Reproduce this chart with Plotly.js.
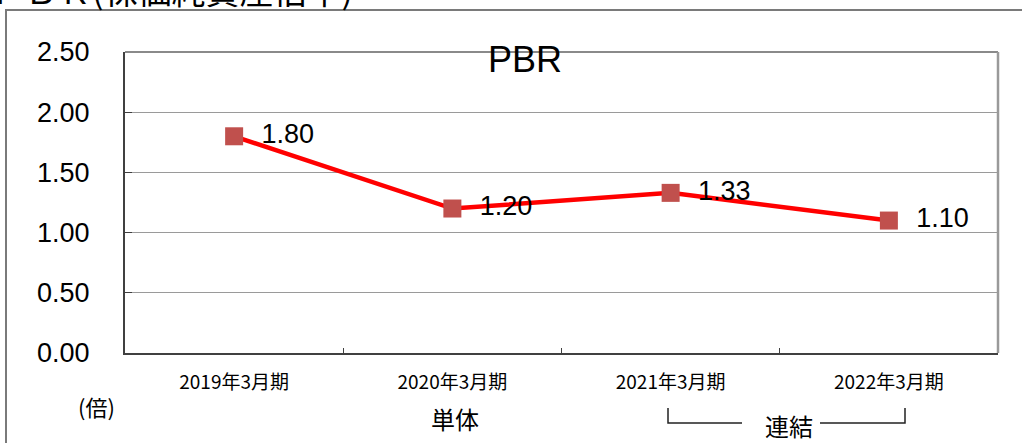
<!DOCTYPE html>
<html>
<head>
<meta charset="utf-8">
<script src="https://cdn.plot.ly/plotly-3.0.1.min.js"></script>
<style>html,body{margin:0;padding:0;background:#fff;}#chart{width:1022px;height:443px;}</style>
</head>
<body>
<div id="chart"></div>
<script>
const categories = ["2019年3月期", "2020年3月期", "2021年3月期", "2022年3月期"];
const pbrValues = [1.80, 1.20, 1.33, 1.10];
const pbrLabels = ["1.80", "1.20", "1.33", "1.10"];
const yTickValues = [0, 0.5, 1.0, 1.5, 2.0, 2.5];
const yTickLabels = ["0.00", "0.50", "1.00", "1.50", "2.00", "2.50"];

const W = 1022, H = 443;
const L = 125, R = 24, T = 52, B = 90;
const pw = W - L - R, ph = H - T - B;
const px = x => (x - L) / pw;
const py = y => (H - B - y) / ph;

const trace = {
  type: 'scatter',
  mode: 'lines+markers+text',
  x: categories,
  y: pbrValues,
  text: pbrLabels.map(s => '\u00a0\u00a0' + s),
  textposition: 'middle right',
  textfont: {family: 'Liberation Sans, Arial, sans-serif', size: 27, color: '#000'},
  line: {color: '#FF0000', width: 4.5},
  marker: {symbol: 'square', size: 18, color: '#C0504D', line: {width: 0}},
  cliponaxis: false,
  hoverinfo: 'skip'
};

const jp = 'Noto Sans CJK JP, sans-serif';
const layout = {
  width: W, height: H,
  margin: {l: L, r: R, t: T, b: B, pad: 0},
  paper_bgcolor: '#fff', plot_bgcolor: '#fff',
  showlegend: false,
  xaxis: {
    type: 'category',
    categoryarray: categories,
    range: [-0.5, 3.5],
    tickson: 'boundaries',
    ticks: 'inside', ticklen: 5, tickcolor: '#404040', tickwidth: 1,
    showline: true, linecolor: '#404040', linewidth: 2,
    showgrid: false, zeroline: false,
    tickfont: {family: jp, size: 19, color: '#000'},
    ticklabelstandoff: 11,
    fixedrange: true
  },
  yaxis: {
    range: [0, 2.5],
    tickvals: yTickValues, ticktext: yTickLabels,
    ticks: 'inside', ticklen: 7, tickcolor: '#404040', tickwidth: 1,
    showline: true, linecolor: '#404040', linewidth: 2,
    showgrid: true, gridcolor: '#9a9a9a', gridwidth: 1,
    zeroline: false,
    tickfont: {family: 'Liberation Sans, Arial, sans-serif', size: 27, color: '#000'},
    ticklabelstandoff: 28,
    fixedrange: true
  },
  shapes: [
    {type: 'line', xref: 'paper', yref: 'paper', x0: 0, x1: 1, y0: 1, y1: 1, line: {color: '#8a8a8a', width: 2}},
    {type: 'line', xref: 'paper', yref: 'paper', x0: 1, x1: 1, y0: 0, y1: 1, line: {color: '#9a9a9a', width: 2.5}},
    {type: 'path', xref: 'paper', yref: 'paper',
     path: `M ${px(6)},${py(460)} L ${px(6)},${py(10)} L ${px(1030)},${py(10)}`,
     line: {color: '#7a7a7a', width: 2}},
    {type: 'path', xref: 'paper', yref: 'paper',
     path: `M ${px(668)},${py(408)} L ${px(668)},${py(423)} L ${px(742)},${py(423)}`,
     line: {color: '#222', width: 1.5}},
    {type: 'path', xref: 'paper', yref: 'paper',
     path: `M ${px(820)},${py(423)} L ${px(905)},${py(423)} L ${px(905)},${py(408)}`,
     line: {color: '#222', width: 1.5}}
  ],
  annotations: [
    {text: 'PBR', xref: 'paper', yref: 'paper', x: px(525), y: py(60), xanchor: 'center', yanchor: 'middle',
     showarrow: false, font: {family: 'Liberation Sans, Arial, sans-serif', size: 36, color: '#000'}},
    {text: 'ＰＢＲ(株価純資産倍率)', xref: 'paper', yref: 'paper', x: px(-12), y: py(-11), xanchor: 'left', yanchor: 'middle',
     showarrow: false, font: {family: jp, size: 34, color: '#000'}},
    {text: '(倍)', xref: 'paper', yref: 'paper', x: px(96), y: py(406), xanchor: 'center', yanchor: 'middle',
     showarrow: false, font: {family: jp, size: 22, color: '#000'}},
    {text: '単体', xref: 'paper', yref: 'paper', x: px(455), y: py(418), xanchor: 'center', yanchor: 'middle',
     showarrow: false, font: {family: jp, size: 24, color: '#000'}},
    {text: '連結', xref: 'paper', yref: 'paper', x: px(789), y: py(425), xanchor: 'center', yanchor: 'middle',
     showarrow: false, font: {family: jp, size: 24, color: '#000'}}
  ]
};

Plotly.newPlot('chart', [trace], layout, {displayModeBar: false, staticPlot: true});
</script>
</body>
</html>
